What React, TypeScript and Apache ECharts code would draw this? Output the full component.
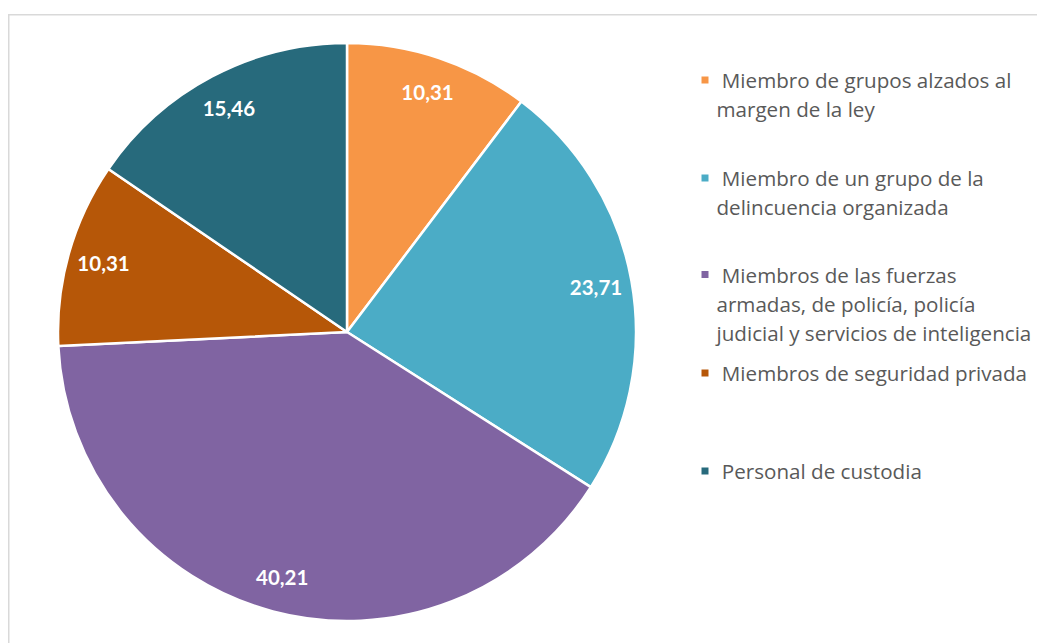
import React, { useEffect, useRef } from "react";
import * as echarts from "echarts";

const categories = [
  "Miembro de grupos alzados al margen de la ley",
  "Miembro de un grupo de la delincuencia organizada",
  "Miembros de las fuerzas armadas, de policía, policía judicial y servicios de inteligencia",
  "Miembros de seguridad privada",
  "Personal de custodia",
];
const legendLabels = [
  "\u00a0Miembro de grupos alzados al\nmargen de la ley",
  "\u00a0Miembro de un grupo de la\ndelincuencia organizada",
  "\u00a0Miembros de las fuerzas\narmadas, de policía, policía\njudicial y servicios de inteligencia",
  "\u00a0Miembros de seguridad privada",
  "\u00a0Personal de custodia",
];
const values = [10.31, 23.71, 40.21, 10.31, 15.46];
const colors = ["#F79646", "#4BACC6", "#8064A2", "#B65708", "#276A7C"];

const LINE_H = 29;
const legendIconCenters = [72.5, 170.5, 267, 365.5, 463.5];

export default function App() {
  const ref = useRef<HTMLDivElement>(null);
  useEffect(() => {
    if (!ref.current) return;
    const chart = echarts.init(ref.current, null, { renderer: "svg" });
    const data = categories.map((name, i) => ({ name, value: values[i], itemStyle: { color: colors[i] } }));
    const legends = categories.map((name, i) => {
      const lines = legendLabels[i].split("\n");
      const n = lines.length;
      const padded = Array(n - 1).fill("\u00a0").concat(lines).join("\n");
      return {
        orient: "vertical",
        left: 691.5,
        top: legendIconCenters[i] - 0.5 - ((2 * n - 1) * LINE_H) / 2,
        padding: 0,
        itemWidth: 9,
        itemHeight: 9,
        itemGap: 0,
        icon: "rect",
        selectedMode: false,
        data: [name],
        formatter: () => padded,
        textStyle: {
          fontFamily: "Open Sans",
          fontSize: 20.6,
          color: "#595959",
          lineHeight: LINE_H,
          padding: [0, 0, 0, 2],
        },
      };
    });
    chart.setOption({
      animation: false,
      legend: legends,
      graphic: [
        {
          type: "rect",
          silent: true,
          z: -10,
          shape: { x: 0.75, y: 6.75, width: 1100, height: 700 },
          style: { fill: "none", stroke: "#d9d9d9", lineWidth: 1.5 },
        },
      ],
      series: [
        {
          type: "pie",
          center: [339, 324],
          radius: [0, 289],
          startAngle: 90,
          clockwise: true,
          silent: true,
          label: { show: false },
          labelLine: { show: false },
          itemStyle: { borderColor: "#ffffff", borderWidth: 2.5 },
          data,
        },
        {
          type: "pie",
          center: [339, 324],
          radius: [211, 289],
          startAngle: 90,
          clockwise: true,
          silent: true,
          itemStyle: { color: "rgba(0,0,0,0)", borderWidth: 0 },
          label: {
            show: true,
            position: "inside",
            color: "#ffffff",
            fontFamily: "Lato",
            fontWeight: "bold",
            fontSize: 20.5,
            formatter: (p: any) => values[p.dataIndex].toFixed(2).replace(".", ","),
          },
          labelLine: { show: false },
          data: categories.map((name, i) => ({ name, value: values[i] })),
        },
      ],
    });
    return () => chart.dispose();
  }, []);
  return <div ref={ref} style={{ width: 1037, height: 635 }} />;
}
